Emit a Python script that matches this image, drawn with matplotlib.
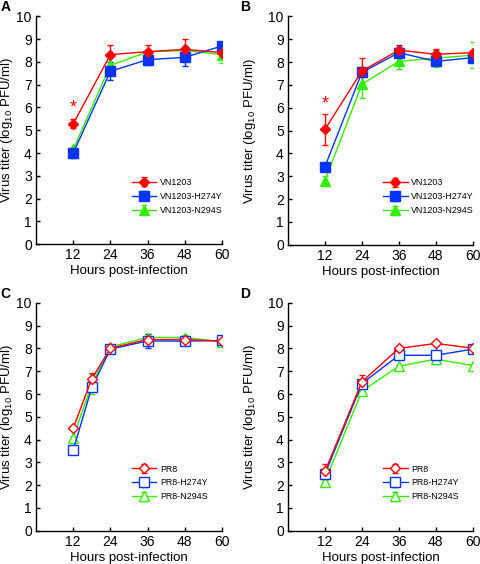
import numpy as np
import matplotlib
matplotlib.use("Agg")
import matplotlib.pyplot as plt

plt.rcParams["font.family"] = ["Liberation Sans", "DejaVu Sans"]
plt.rcParams["mathtext.fontset"] = "custom"
plt.rcParams["mathtext.rm"] = "Liberation Sans"

hours = [12, 24, 36, 48, 60]
hours_c = [12, 18, 24, 36, 48, 60]

# panel A
a_wt = [5.28, 8.32, 8.45, 8.55, 8.41]
a_wt_err = [0.2, 0.44, 0.3, 0.45, 0.1]
a_h274y = [4.0, 7.59, 8.1, 8.2, 8.7]
a_h274y_err = [0.23, 0.39, 0.25, 0.38, 0.1]
a_n294s = [4.16, 7.85, 8.44, 8.5, 8.32]
a_n294s_err = [0.1, 0.15, 0.1, 0.1, 0.36]

# panel B
b_wt = [5.05, 7.61, 8.52, 8.34, 8.41]
b_wt_err = [0.68, 0.55, 0.15, 0.25, 0.1]
b_h274y = [3.42, 7.55, 8.41, 8.03, 8.19]
b_h274y_err = [0.1, 0.1, 0.35, 0.15, 0.2]
b_n294s = [2.81, 7.03, 8.03, 8.17, 8.3]
b_n294s_err = [0.21, 0.6, 0.32, 0.37, 0.56]

# panel C
c_wt = [4.5, 6.67, 8.01, 8.39, 8.39, 8.32]
c_wt_err = [0.05, 0.26, 0.1, 0.1, 0.1, 0.05]
c_h274y = [3.54, 6.29, 7.97, 8.33, 8.32, 8.35]
c_h274y_err = [0.05, 0.1, 0.1, 0.3, 0.05, 0.05]
c_n294s = [4.09, 6.43, 8.07, 8.48, 8.48, 8.29]
c_n294s_err = [0.05, 0.45, 0.1, 0.17, 0.1, 0.05]

# panel D
d_wt = [2.6, 6.54, 8.0, 8.22, 8.01]
d_wt_err = [0.35, 0.29, 0.1, 0.05, 0.1]
d_h274y = [2.49, 6.46, 7.7, 7.7, 7.97]
d_h274y_err = [0.1, 0.1, 0.1, 0.39, 0.1]
d_n294s = [2.16, 6.13, 7.22, 7.53, 7.25]
d_n294s_err = [0.05, 0.05, 0.05, 0.1, 0.05]

labels_vn = ["VN1203", "VN1203-H274Y", "VN1203-N294S"]
labels_pr = ["PR8", "PR8-H274Y", "PR8-N294S"]
colors = ["#ff0000", "#0033ff", "#33ee00"]
markers = ["D", "s", "^"]
msizes = [5.5, 6.5, 6.5]


def draw_panel(ax, x, series, errs, labels, filled, letter, ylab_x, letter_x, star=None):
    order = [2, 1, 0]
    handles = [None] * 3
    for i in order:
        fc = colors[i] if filled else "white"
        h = ax.errorbar(x, series[i], yerr=errs[i], color=colors[i], marker=markers[i],
                        ms=msizes[i], mfc=fc, mec=colors[i], mew=1.0, lw=1.0,
                        elinewidth=1.0, capsize=2.5, capthick=1.0, label=labels[i])
        handles[i] = h
    if star is not None:
        ax.text(12, star, "*", color=colors[0], ha="center", va="center", fontsize=13)
    ax.set_xlim(0, 60)
    ax.set_ylim(0, 10)
    ax.set_xticks([12, 24, 36, 48, 60])
    ax.set_yticks(range(0, 11))
    ax.tick_params(direction="in", length=3, labelsize=10, width=1, pad=3)
    for s in ["top", "right"]:
        ax.spines[s].set_visible(False)
    for s in ["left", "bottom"]:
        ax.spines[s].set_linewidth(1.0)
    ax.set_xlabel("Hours post-infection", fontsize=9.5, labelpad=2)
    ax.set_ylabel("Virus titer (log$_{10}$ PFU/ml)", fontsize=9.5)
    ax.yaxis.set_label_coords(ylab_x, 0.5)
    ax.legend(handles=handles, labels=labels, loc="upper left", bbox_to_anchor=(0.49, 0.31),
              frameon=False, fontsize=6.4, handlelength=2.8, handletextpad=0.4,
              labelspacing=0.55, borderpad=0)
    ax.text(letter_x, 1.04, letter, transform=ax.transAxes, fontsize=10, fontweight="bold",
            ha="left", va="center")


fig = plt.figure(figsize=(4.8, 5.64), dpi=100)
axA = fig.add_axes([0.075, 0.567, 0.3875, 0.404])
axB = fig.add_axes([0.600, 0.566, 0.385, 0.405])
axC = fig.add_axes([0.075, 0.059, 0.3875, 0.404])
axD = fig.add_axes([0.600, 0.059, 0.385, 0.404])

draw_panel(axA, hours, [a_wt, a_h274y, a_n294s], [a_wt_err, a_h274y_err, a_n294s_err],
           labels_vn, True, "A", -0.112, -0.19, star=5.96)
draw_panel(axB, hours, [b_wt, b_h274y, b_n294s], [b_wt_err, b_h274y_err, b_n294s_err],
           labels_vn, True, "B", -0.165, -0.26, star=6.16)
draw_panel(axC, hours_c, [c_wt, c_h274y, c_n294s], [c_wt_err, c_h274y_err, c_n294s_err],
           labels_pr, False, "C", -0.112, -0.19)
draw_panel(axD, hours, [d_wt, d_h274y, d_n294s], [d_wt_err, d_h274y_err, d_n294s_err],
           labels_pr, False, "D", -0.165, -0.26)

fig.savefig("out.png", dpi=100)
